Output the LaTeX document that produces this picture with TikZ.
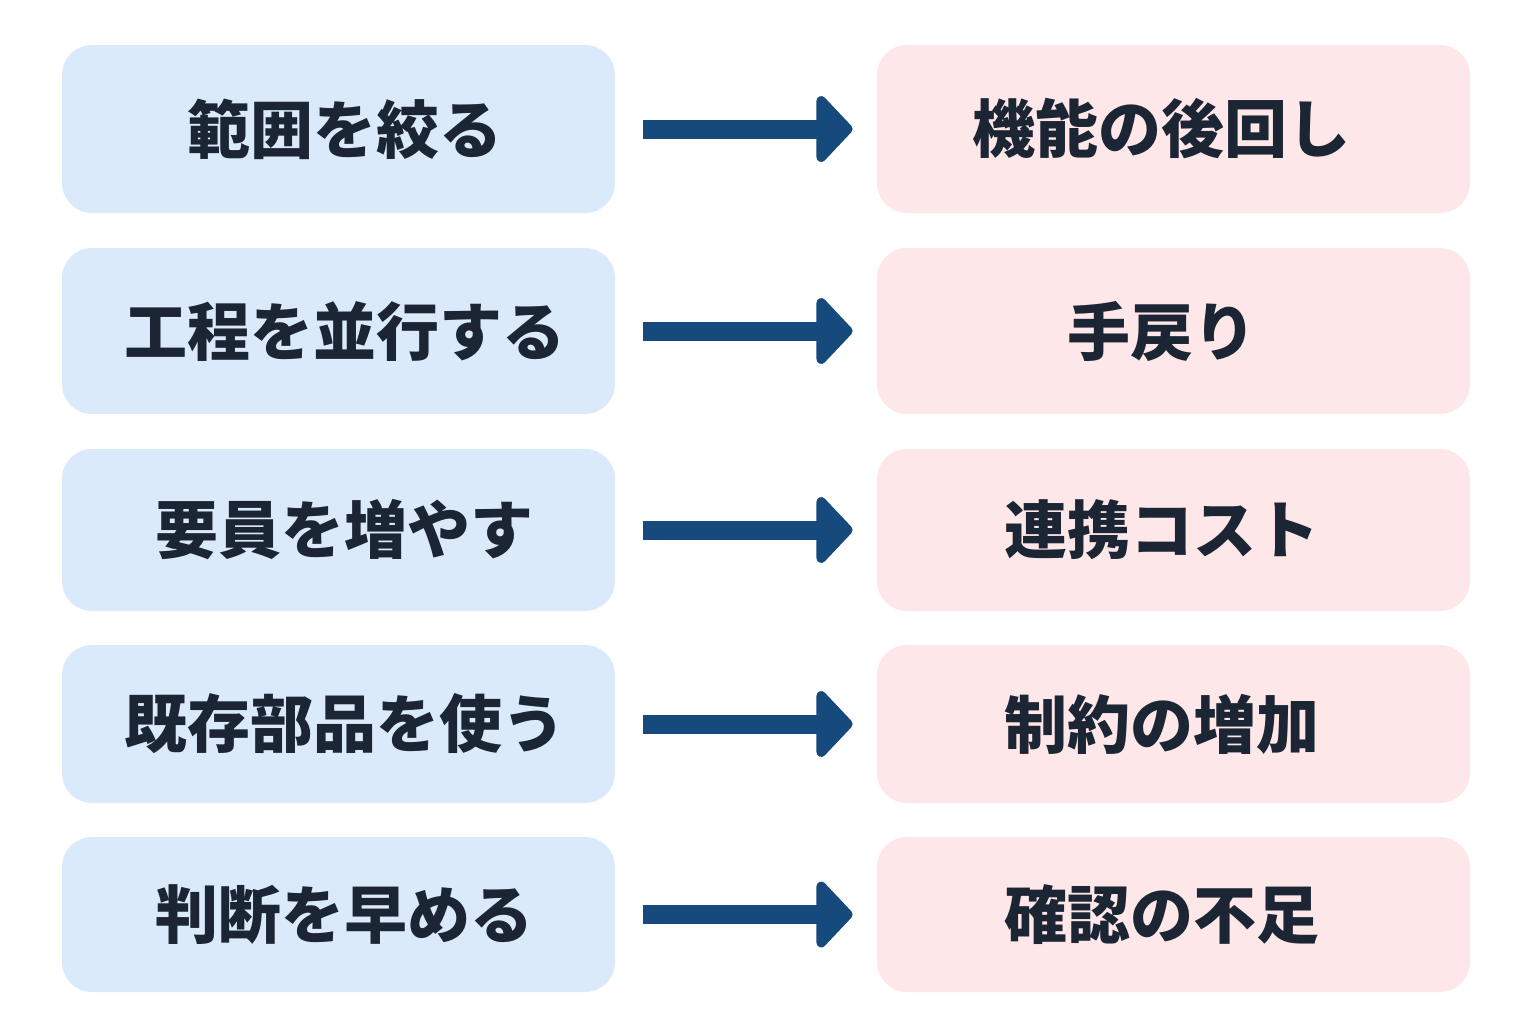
\documentclass[tikz,border=0pt]{standalone}
\usepackage{fontspec}
\newfontfamily\cjk{Noto Sans CJK JP}
\usetikzlibrary{arrows.meta,calc}
\definecolor{leftfill}{HTML}{DBEAFB}
\definecolor{rightfill}{HTML}{FDE7E9}
\definecolor{arrowc}{HTML}{174A7C}
\definecolor{textc}{HTML}{1B2533}
\begin{document}
\begin{tikzpicture}[x=0.5pt,y=-0.5pt,
  box/.style={rounded corners=15pt, inner sep=0pt, font=\cjk\bfseries\fontsize{31.5}{36}\selectfont, text=textc},
  lbox/.style={box, fill=leftfill, minimum width=276.5pt},
  rbox/.style={box, fill=rightfill, minimum width=296.5pt},
  blockarrow/.style={draw=arrowc, line width=9.5pt, -{Triangle[width=39pt,length=19pt,round]}, arrowc}
]
\useasboundingbox (0,0) rectangle (1536,1024);
\fill[white] (0,0) rectangle (1536,1024);
\foreach \i/\y/\h/\lt/\rt in {
  1/129/168/範囲を絞る/機能の後回し,
  2/331/166/工程を並行する/手戻り,
  3/530/162/要員を増やす/連携コスト,
  4/724/158/既存部品を使う/制約の増加,
  5/914.5/155/判断を早める/確認の不足}{
  \node[lbox, minimum height=\h*0.5pt, text width=276.5pt, align=center] (l\i) at (338.5,\y) {\hspace*{6pt}\lt};
  \node[rbox, minimum height=\h*0.5pt, text width=296.5pt, align=center] (r\i) at (1173.5,\y) {\hspace*{-12pt}\rt};
  \draw[blockarrow] ($(l\i.east)+(28,0)$) -- ($(r\i.west)+(-24,0)$);
}
\end{tikzpicture}
\end{document}
